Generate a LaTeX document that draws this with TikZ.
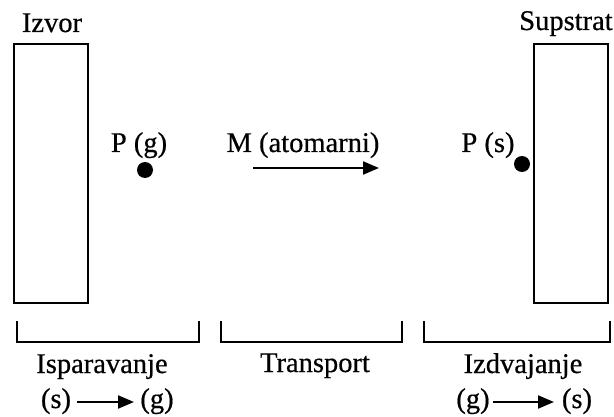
\documentclass[tikz,border=0pt]{standalone}
\usepackage{fontspec}
\setmainfont{Liberation Serif}
\newfontfamily\heavyserif{Liberation Serif}[FakeBold=0.5]
\usetikzlibrary{arrows.meta}
\begin{document}
\begin{tikzpicture}[x=1pt,y=-1pt,
  lbl/.style={anchor=base,inner sep=0pt,font=\heavyserif\fontsize{28.5}{31}\selectfont},
  plate/.style={draw,line width=2.2pt,minimum width=74pt,minimum height=259pt,inner sep=0pt},
  dotn/.style={circle,fill=black,minimum size=16pt,inner sep=0pt},
  brack/.style={line width=2pt},
  arr/.style={line width=2.2pt,-{Triangle[length=16pt,width=13pt]}}]
\useasboundingbox (0,0) rectangle (614,417);
% plates
\node[plate] (izvor) at (51,173.5) {};
\node[plate] (supstrat) at (571,173.5) {};
\node[lbl] (tizvor) at (52,32) {Izvor};
\node[lbl] (tsup) at (566,30) {Supstrat};
% particles
\node[lbl] (pg) at (139,152) {P (g)};
\node[dotn] (dg) at (145,170) {};
\node[lbl] (ma) at (303,152) {M (atomarni)};
\coordinate (a1) at (253,168);
\coordinate (a2) at (379,168);
\draw[arr] (a1) -- (a2);
\node[lbl] (ps) at (488,152) {P (s)};
\node[dotn] (ds) at (522,164) {};
% brackets
\coordinate (b1a) at (17,321); \coordinate (b1b) at (17,342);
\coordinate (b1c) at (199,342); \coordinate (b1d) at (199,321);
\draw[brack] (b1a) -- (b1b) -- (b1c) -- (b1d);
\coordinate (b2a) at (221,321); \coordinate (b2b) at (221,342);
\coordinate (b2c) at (402,342); \coordinate (b2d) at (402,321);
\draw[brack] (b2a) -- (b2b) -- (b2c) -- (b2d);
\coordinate (b3a) at (424,321); \coordinate (b3b) at (424,342);
\coordinate (b3c) at (610,342); \coordinate (b3d) at (610,321);
\draw[brack] (b3a) -- (b3b) -- (b3c) -- (b3d);
% bottom labels
\node[lbl] (isp) at (102,373) {Isparavanje};
\node[lbl] (tra) at (315,372) {Transport};
\node[lbl] (izd) at (523,373) {Izdvajanje};
\node[lbl] (s1) at (56,408) {(s)};
\node[lbl] (g1) at (157,408) {(g)};
\coordinate (sa) at (77,402);
\coordinate (sb) at (134,402);
\draw[arr] (sa) -- (sb);
\node[lbl] (g2) at (473,408) {(g)};
\node[lbl] (s2) at (577,408) {(s)};
\coordinate (ga) at (493,402);
\coordinate (gb) at (554,402);
\draw[arr] (ga) -- (gb);
\end{tikzpicture}
\end{document}
